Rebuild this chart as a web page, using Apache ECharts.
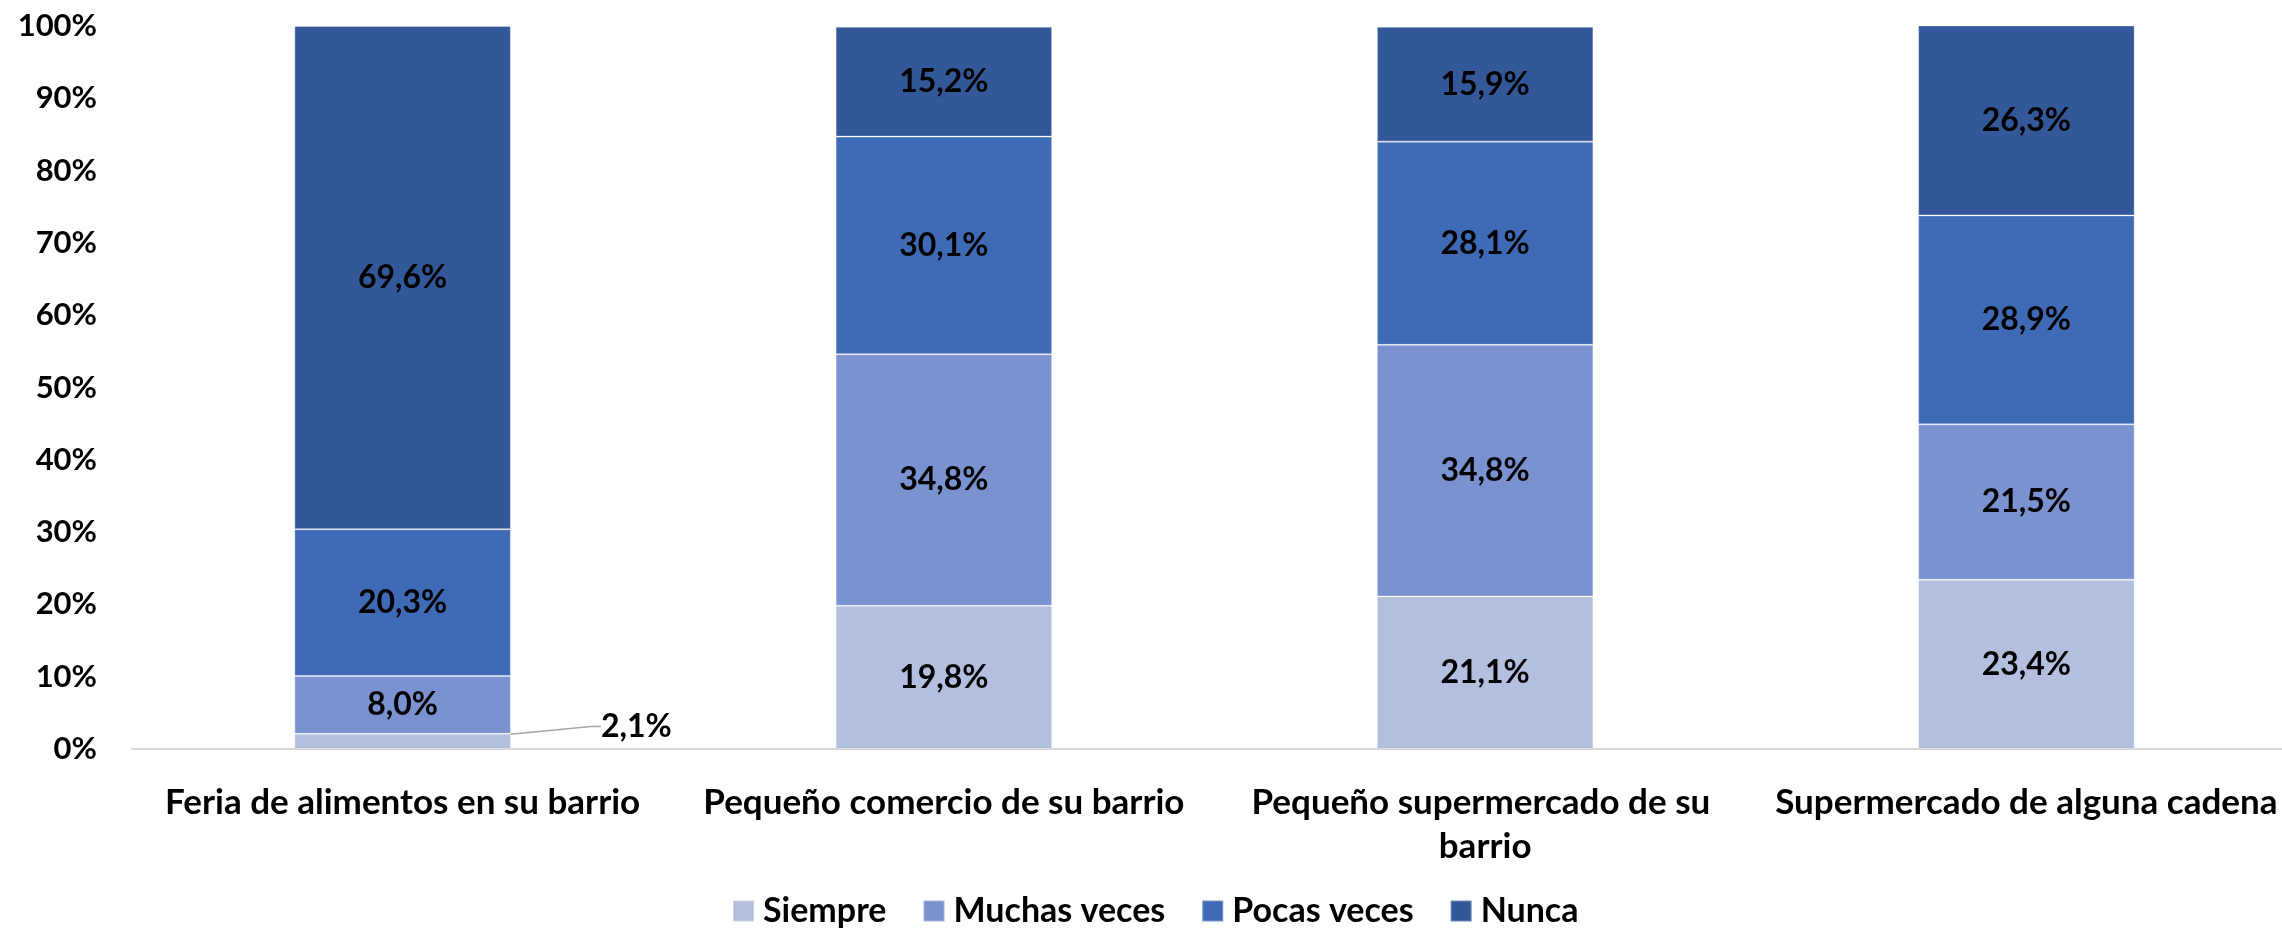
<!DOCTYPE html>
<html>
<head>
<meta charset="utf-8">
<script src="https://cdn.jsdelivr.net/npm/echarts@6/dist/echarts.min.js"></script>
<style>
html,body{margin:0;padding:0;background:#fff;overflow:hidden;width:2282px;height:928px;}
#main{width:2297px;height:928px;}
</style>
</head>
<body>
<div id="main"></div>
<script>
const categories = ["Feria de alimentos en su barrio", "Pequeño comercio de su barrio", "Pequeño supermercado de su barrio", "Supermercado de alguna cadena"];
const seriesNames = ["Siempre", "Muchas veces", "Pocas veces", "Nunca"];
const siempre = [2.1, 19.8, 21.1, 23.4];
const muchasVeces = [8.0, 34.8, 34.8, 21.5];
const pocasVeces = [20.3, 30.1, 28.1, 28.9];
const nunca = [69.6, 15.2, 15.9, 26.3];
const yTicks = [0, 10, 20, 30, 40, 50, 60, 70, 80, 90, 100];
const colors = ["#B4BEDF", "#7A92CF", "#3F6AB6", "#335899"];

const FONT = "Lato";
const fmt = v => v.toFixed(1).replace('.', ',') + '%';

const allData = [siempre, muchasVeces, pocasVeces, nunca];
const series = allData.map((arr, si) => ({
  name: seriesNames[si],
  type: 'bar',
  stack: 'total',
  barWidth: '40%',
  itemStyle: { color: colors[si], borderColor: 'rgba(255,255,255,0.3)', borderWidth: 1 },
  label: {
    show: true, position: 'inside', color: '#000', fontFamily: FONT, fontWeight: 'bold', fontSize: 32,
    formatter: p => fmt(p.value)
  },
  data: arr.map((v, i) => {
    if (si === 0 && v < 5) {
      return {
        value: v,
        label: { position: 'right', distance: 4 },
        labelLine: { show: true, length2: 10, lineStyle: { color: '#A6A6A6', width: 1.5 } }
      };
    }
    return v;
  }),
  labelLayout: p => (si === 0 && p.dataIndex === 0) ? { dx: 86, dy: -15 } : {},
  labelLine: { show: false }
}));

const chart = echarts.init(document.getElementById('main'));
chart.setOption({
  animation: false,
  color: colors,
  grid: { left: 132, right: 0, top: 26, bottom: 179, containLabel: false },
  legend: {
    data: seriesNames,
    left: 732, top: 894, padding: 0,
    itemWidth: 21, itemHeight: 21, itemGap: 36,
    icon: 'rect',
    textStyle: { fontFamily: FONT, fontWeight: 'bold', fontSize: 34, color: '#000', padding: [0, 0, 0, 4] }
  },
  xAxis: {
    type: 'category',
    data: categories,
    axisLine: { lineStyle: { color: '#D9D9D9', width: 2 } },
    axisTick: { show: false },
    axisLabel: {
      fontFamily: FONT, fontWeight: 'bold', fontSize: 35, color: '#000',
      margin: 32, lineHeight: 44, width: 530, overflow: 'break', interval: 0
    }
  },
  yAxis: {
    type: 'value',
    min: 0, max: 100, interval: 10,
    axisLine: { show: false },
    axisTick: { show: false },
    splitLine: { show: false },
    axisLabel: {
      fontFamily: FONT, fontWeight: 'bold', fontSize: 31, color: '#000', margin: 35,
      formatter: v => yTicks.includes(v) ? v + '%' : ''
    }
  },
  series: series
});
</script>
</body>
</html>
